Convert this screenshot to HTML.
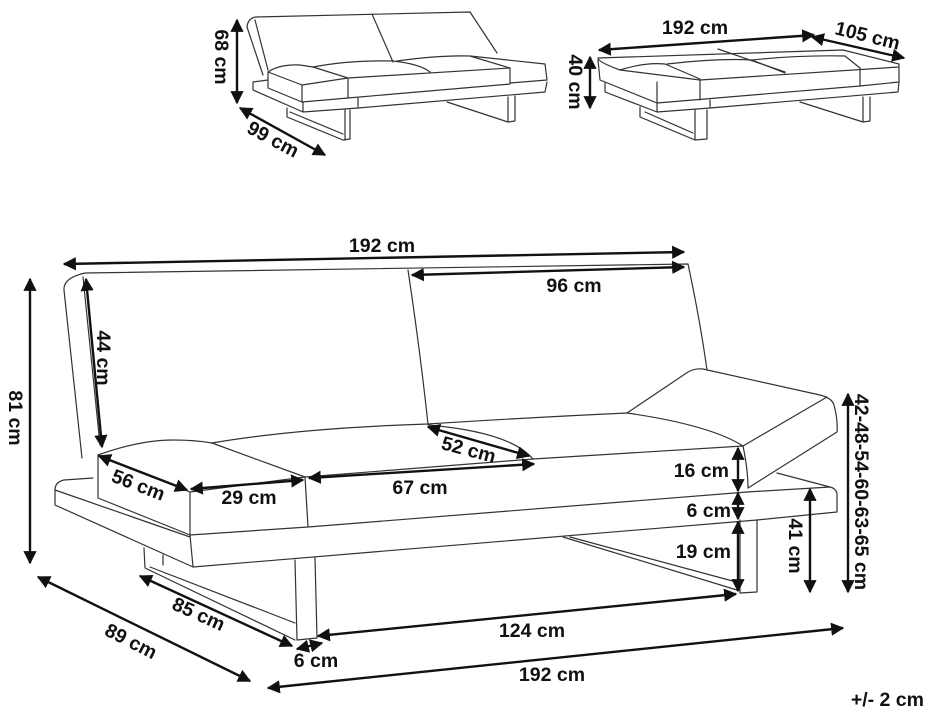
<!DOCTYPE html>
<html><head><meta charset="utf-8"><style>
html,body{margin:0;padding:0;background:#fff;}
svg{display:block;}
text{font-family:"Liberation Sans",sans-serif;font-weight:bold;font-size:19.5px;fill:#111;}
.s{fill:none;stroke:#333;stroke-width:1.2;stroke-linejoin:round;stroke-linecap:round;}
.a{fill:none;stroke:#111;stroke-width:2.4;}
</style></head><body>
<svg width="934" height="716" viewBox="0 0 934 716" xmlns="http://www.w3.org/2000/svg">
<defs>
<marker id="h" viewBox="0 0 10 10" refX="9" refY="5" markerWidth="5.5" markerHeight="5.5" orient="auto-start-reverse" markerUnits="strokeWidth">
<path d="M0,0 L10,5 L0,10 z" fill="#111"/></marker>
</defs>

<!-- ===== small sofa left ===== -->
<g class="s">
<path d="M247,27 Q248,18 256,17 L470,12 L497,53"/>
<path d="M247,27 L263,75"/>
<path d="M255,20 L268,70"/>
<path d="M372,14 L393,62"/>
<path d="M268,72 Q280,64 300,65 L313,67 L348,78 L302,85 Z"/>
<path d="M313,67 Q350,60 393,61"/>
<path d="M393,61 Q420,64 430,72"/>
<path d="M397,61 Q440,55 470,56"/>
<path d="M470,56 L545,64 L547,80 L510,83 L510,68 L470,56"/>
<path d="M348,78 L510,68"/>
<path d="M268,72 L268,88 L302,102 L302,85"/>
<path d="M302,102 L348,98 L348,78"/>
<path d="M348,98 L510,84"/>
<path d="M253,82 L268,80 M253,82 L253,90 L303,112 L303,102"/>
<path d="M303,112 L358,108 L545,92 L547,82"/>
<path d="M358,108 L358,98"/>
<path d="M287,108 L287,117 L343,140 L350,139 L350,110 M345,110 L345,140 M290,112 L343,134"/>
<path d="M447,102 L508,122 L515,121 L515,96 M508,97 L508,122"/>
</g>
<line class="a" x1="237" y1="20" x2="237" y2="103" marker-start="url(#h)" marker-end="url(#h)"/>
<text transform="translate(215,57) rotate(90)" text-anchor="middle">68 cm</text>
<line class="a" x1="240" y1="108" x2="325" y2="155" marker-start="url(#h)" marker-end="url(#h)"/>
<text transform="translate(270,145) rotate(28)" text-anchor="middle">99 cm</text>

<!-- ===== small sofa right ===== -->
<g class="s">
<path d="M598,58 L843,50 L899,64 L899,82 L860,86"/>
<path d="M718,49 L785,72"/>
<path d="M598,58 Q598,62 620,70 L700,80 L899,67"/>
<path d="M620,70 Q645,62 665,64 L700,79"/>
<path d="M667,64 Q720,58 752,60 L785,73"/>
<path d="M752,60 Q800,55 845,56 L860,68"/>
<path d="M598,60 L600,80 L657,103 L657,82 M700,80 L700,100 M860,68 L860,86"/>
<path d="M657,103 L860,86"/>
<path d="M605,83 L605,92 L657,112 L710,108 L898,92 L899,82 M657,103 L657,112 M710,108 L710,100"/>
<path d="M640,107 L640,117 L695,140 L707,139 L707,110 M695,110 L695,140 M645,112 L693,133"/>
<path d="M800,102 L863,122 L870,121 L870,97 M863,97 L863,122"/>
</g>
<line class="a" x1="599" y1="50" x2="814" y2="35" marker-start="url(#h)" marker-end="url(#h)"/>
<text x="695" y="34" text-anchor="middle">192 cm</text>
<line class="a" x1="812" y1="37" x2="904" y2="58" marker-start="url(#h)" marker-end="url(#h)"/>
<text transform="translate(866,42) rotate(14)" text-anchor="middle">105 cm</text>
<line class="a" x1="590" y1="57" x2="590" y2="108" marker-start="url(#h)" marker-end="url(#h)"/>
<text transform="translate(569,82) rotate(90)" text-anchor="middle">40 cm</text>

<!-- ===== main sofa ===== -->
<g class="s">
<path d="M82,458 L64,290 Q63,278 85,273 L688,264 Q700,320 707,370"/>
<path d="M83,277 L100,445"/>
<path d="M408,270 Q420,350 428,424"/>
<path d="M98,455 Q140,440 173,440 Q195,440 212,443 L305,477 L190,492 Z"/>
<path d="M98,455 L98,498 L190,535 L190,492"/>
<path d="M190,535 L308,527 L305,477"/>
<path d="M212,443 Q300,428 428,424 Q520,418 627,413"/>
<path d="M305,477 L533,459 L743,446"/>
<path d="M428,425 Q510,432 533,459"/>
<path d="M627,413 Q710,425 743,446"/>
<path d="M308,527 L747,492"/>
<path d="M627,413 L688,372 Q695,368 703,369 L820,395 Q832,398 834,405 Q838,420 837,432 L748,488"/>
<path d="M743,446 L827,397"/>
<path d="M743,446 Q748,470 748,488"/>
<path d="M93,478 L64,480 Q55,482 55,490 L55,505 L193,567 L190,535 M55,490 L190,537"/>
<path d="M193,567 L757,520 L837,512 L837,493 Q835,488 830,487 L777,473"/>
<path d="M747,492 L830,487"/>
<path d="M144,548 L145,568 L295,640 M150,567 L295,623 M163,555 L163,565"/>
<path d="M295,560 L297,640 L317,638 L315,558"/>
<path d="M740,520 L740,593 L757,592 L757,520"/>
<path d="M563,537 L737,590 M570,537 L740,583"/>
</g>

<line class="a" x1="64" y1="264" x2="684" y2="252" marker-start="url(#h)" marker-end="url(#h)"/>
<text x="382" y="252" text-anchor="middle">192 cm</text>
<line class="a" x1="412" y1="275" x2="684" y2="267" marker-start="url(#h)" marker-end="url(#h)"/>
<text x="574" y="292" text-anchor="middle">96 cm</text>
<line class="a" x1="30" y1="279" x2="30" y2="563" marker-start="url(#h)" marker-end="url(#h)"/>
<text transform="translate(9,418) rotate(90)" text-anchor="middle">81 cm</text>
<line class="a" x1="86" y1="279" x2="102" y2="447" marker-start="url(#h)" marker-end="url(#h)"/>
<text transform="translate(97,358) rotate(90)" text-anchor="middle">44 cm</text>
<line class="a" x1="428" y1="427" x2="529" y2="456" marker-start="url(#h)" marker-end="url(#h)"/>
<text transform="translate(467,456) rotate(15)" text-anchor="middle">52 cm</text>
<line class="a" x1="99" y1="456" x2="187" y2="490" marker-start="url(#h)" marker-end="url(#h)"/>
<text transform="translate(136,491) rotate(21)" text-anchor="middle">56 cm</text>
<line class="a" x1="191" y1="489" x2="303" y2="480" marker-start="url(#h)" marker-end="url(#h)"/>
<text x="249" y="504" text-anchor="middle">29 cm</text>
<line class="a" x1="309" y1="478" x2="534" y2="464" marker-start="url(#h)" marker-end="url(#h)"/>
<text x="420" y="494" text-anchor="middle">67 cm</text>
<line class="a" x1="738" y1="448" x2="738" y2="491" marker-start="url(#h)" marker-end="url(#h)"/>
<text x="729" y="477" text-anchor="end">16 cm</text>
<line class="a" x1="738" y1="493" x2="738" y2="519" marker-start="url(#h)" marker-end="url(#h)"/>
<text x="731" y="517" text-anchor="end">6 cm</text>
<line class="a" x1="738" y1="522" x2="738" y2="591" marker-start="url(#h)" marker-end="url(#h)"/>
<text x="731" y="558" text-anchor="end">19 cm</text>
<line class="a" x1="810" y1="489" x2="810" y2="592" marker-start="url(#h)" marker-end="url(#h)"/>
<text transform="translate(789,546) rotate(90)" text-anchor="middle">41 cm</text>
<line class="a" x1="848" y1="394" x2="848" y2="592" marker-start="url(#h)" marker-end="url(#h)"/>
<text transform="translate(855,492) rotate(90)" text-anchor="middle">42-48-54-60-63-65 cm</text>
<line class="a" x1="140" y1="576" x2="292" y2="646" marker-start="url(#h)" marker-end="url(#h)"/>
<text transform="translate(196,620) rotate(24)" text-anchor="middle">85 cm</text>
<line class="a" x1="38" y1="577" x2="250" y2="681" marker-start="url(#h)" marker-end="url(#h)"/>
<text transform="translate(128,647) rotate(27)" text-anchor="middle">89 cm</text>
<line class="a" x1="297" y1="649" x2="322" y2="643" marker-start="url(#h)" marker-end="url(#h)"/>
<text x="316" y="667" text-anchor="middle">6 cm</text>
<line class="a" x1="318" y1="636" x2="736" y2="594" marker-start="url(#h)" marker-end="url(#h)"/>
<text x="532" y="637" text-anchor="middle">124 cm</text>
<line class="a" x1="268" y1="688" x2="843" y2="628" marker-start="url(#h)" marker-end="url(#h)"/>
<text x="552" y="681" text-anchor="middle">192 cm</text>
<text x="924" y="706" text-anchor="end">+/- 2 cm</text>
</svg>
</body></html>
